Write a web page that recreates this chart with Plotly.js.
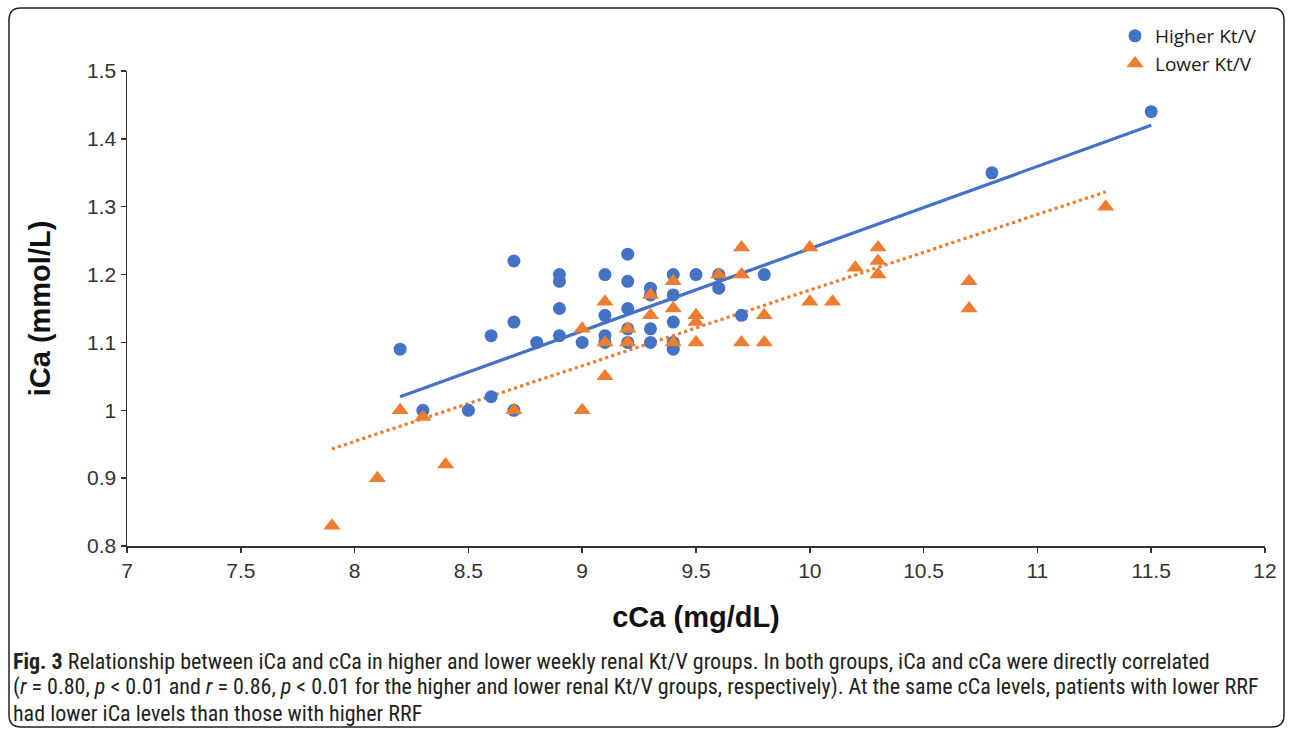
<!DOCTYPE html>
<html>
<head>
<meta charset="utf-8">
<script src="https://cdn.plot.ly/plotly-3.0.1.min.js"></script>
<style>
html,body{margin:0;padding:0;background:#fff;}
#chart{width:1292px;height:734px;}
</style>
</head>
<body>
<div id="chart"></div>
<script>
// Higher Kt/V group (cCa mg/dL, iCa mmol/L)
var higherX = [8.2, 8.3, 8.5, 8.6, 8.6, 8.7, 8.7, 8.7, 8.8, 8.9, 8.9, 8.9, 8.9, 9.0, 9.1, 9.1, 9.1, 9.1, 9.2, 9.2, 9.2, 9.2, 9.2, 9.3, 9.3, 9.3, 9.3, 9.4, 9.4, 9.4, 9.4, 9.4, 9.5, 9.6, 9.6, 9.7, 9.8, 10.8, 11.5];
var higherY = [1.09, 1.00, 1.00, 1.11, 1.02, 1.22, 1.13, 1.00, 1.10, 1.20, 1.19, 1.15, 1.11, 1.10, 1.20, 1.14, 1.11, 1.10, 1.23, 1.19, 1.15, 1.12, 1.10, 1.18, 1.17, 1.12, 1.10, 1.20, 1.17, 1.13, 1.10, 1.09, 1.20, 1.20, 1.18, 1.14, 1.20, 1.35, 1.44];

// Lower Kt/V group
var lowerX = [7.9, 8.1, 8.2, 8.3, 8.4, 8.7, 9.0, 9.0, 9.1, 9.1, 9.1, 9.2, 9.2, 9.3, 9.3, 9.4, 9.4, 9.4, 9.5, 9.5, 9.5, 9.6, 9.7, 9.7, 9.7, 9.8, 9.8, 10.0, 10.0, 10.1, 10.2, 10.3, 10.3, 10.3, 10.7, 10.7, 11.3];
var lowerY = [0.83, 0.90, 1.00, 0.99, 0.92, 1.00, 1.12, 1.00, 1.16, 1.10, 1.05, 1.12, 1.10, 1.17, 1.14, 1.19, 1.15, 1.10, 1.14, 1.13, 1.10, 1.20, 1.24, 1.20, 1.10, 1.14, 1.10, 1.24, 1.16, 1.16, 1.21, 1.24, 1.22, 1.20, 1.19, 1.15, 1.30];

// Linear trendlines (endpoints)
var trendHigherX = [8.2, 11.5];
var trendHigherY = [1.02, 1.42];
var trendLowerX = [7.9, 11.3];
var trendLowerY = [0.943, 1.322];

var seriesNames = ["Higher Kt/V", "Lower Kt/V"];
var xTitle = "cCa (mg/dL)";
var yTitle = "iCa (mmol/L)";
var captionLines = [
  "<b>Fig. 3</b> Relationship between iCa and cCa in higher and lower weekly renal Kt/V groups. In both groups, iCa and cCa were directly correlated",
  "(<i>r</i> = 0.80, <i>p</i> &lt; 0.01 and <i>r</i> = 0.86, <i>p</i> &lt; 0.01 for the higher and lower renal Kt/V groups, respectively). At the same cCa levels, patients with lower RRF",
  "had lower iCa levels than those with higher RRF"
];

var BLUE = "#4472C4", ORANGE = "#ED7D31";

var traces = [
  {x: trendHigherX, y: trendHigherY, mode: "lines", type: "scatter", showlegend: false, hoverinfo: "skip",
   line: {color: BLUE, width: 3.2}},
  {x: trendLowerX, y: trendLowerY, mode: "lines", type: "scatter", showlegend: false, hoverinfo: "skip",
   line: {color: ORANGE, width: 3.2, dash: "dot"}},
  {x: higherX, y: higherY, mode: "markers", type: "scatter", name: seriesNames[0],
   marker: {symbol: "circle", size: 13, color: BLUE, line: {width: 0}}},
  {x: lowerX, y: lowerY, mode: "markers", type: "scatter", name: seriesNames[1],
   marker: {symbol: "triangle-up", size: 15, color: ORANGE, line: {width: 0}}}
];

// plot area in pixels: l=127, r=1265, t=71, b=546
var L = 127, R = 1265, T = 71, B = 546;
function px(p){ return (p - L) / (R - L); }
function py(p){ return (B - p) / (B - T); }
var bx0 = px(9), bx1 = px(1284), by0 = py(727), by1 = py(8);
var rx = 12 / (R - L), ry = 12 / (B - T);
var borderPath = "M " + (bx0 + rx) + " " + by1 +
  " L " + (bx1 - rx) + " " + by1 +
  " Q " + bx1 + " " + by1 + " " + bx1 + " " + (by1 - ry) +
  " L " + bx1 + " " + (by0 + ry) +
  " Q " + bx1 + " " + by0 + " " + (bx1 - rx) + " " + by0 +
  " L " + (bx0 + rx) + " " + by0 +
  " Q " + bx0 + " " + by0 + " " + bx0 + " " + (by0 + ry) +
  " L " + bx0 + " " + (by1 - ry) +
  " Q " + bx0 + " " + by1 + " " + (bx0 + rx) + " " + by1 + " Z";

var captionFont = {family: "'Liberation Sans Narrow', 'Arial Narrow', 'Roboto Condensed', sans-serif", size: 22, color: "#231f20"};

var annotations = captionLines.map(function(t, i){
  return {xref: "paper", yref: "paper", x: px(11), y: py(661 + i * 26), xanchor: "left", yanchor: "middle",
          text: t, showarrow: false, align: "left", font: captionFont};
});

var tickFont = {size: 21, color: "#333333", family: "'Liberation Sans', Arial, sans-serif"};
var titleFont = {size: 29, color: "#111111", family: "'Liberation Sans', Arial, sans-serif", weight: "bold"};

var layout = {
  width: 1292, height: 734,
  margin: {l: L, r: 1292 - R, t: T, b: 734 - B, pad: 0},
  paper_bgcolor: "#ffffff", plot_bgcolor: "#ffffff",
  font: {family: "'Liberation Sans', Arial, sans-serif", color: "#333333"},
  xaxis: {
    range: [7, 12], dtick: 0.5, tick0: 7, showgrid: false, zeroline: false,
    showline: true, linecolor: "#333333", linewidth: 1.5,
    ticks: "outside", ticklen: 5, tickcolor: "#333333", tickwidth: 1.5,
    tickfont: tickFont,
    title: {text: xTitle, font: titleFont, standoff: 26},
    automargin: false
  },
  yaxis: {
    range: [0.8, 1.5], dtick: 0.1, tick0: 0.8, showgrid: false, zeroline: false,
    showline: true, linecolor: "#333333", linewidth: 1.5,
    ticks: "outside", ticklen: 5, tickcolor: "#333333", tickwidth: 1.5,
    tickfont: tickFont,
    title: {text: yTitle, font: titleFont, standoff: 28},
    automargin: false
  },
  legend: {
    x: px(1115), y: py(17), xanchor: "left", yanchor: "top",
    bgcolor: "rgba(0,0,0,0)", borderwidth: 0,
    font: {family: "'Open Sans', sans-serif", size: 19, color: "#1a1a1a"},
    itemsizing: "trace", tracegroupgap: 0
  },
  shapes: [{type: "path", xref: "paper", yref: "paper", path: borderPath,
            line: {color: "#222222", width: 1.5}, fillcolor: "rgba(0,0,0,0)", layer: "above"}],
  annotations: annotations,
  showlegend: true
};

Plotly.newPlot("chart", traces, layout, {displayModeBar: false, staticPlot: true});
</script>
</body>
</html>
